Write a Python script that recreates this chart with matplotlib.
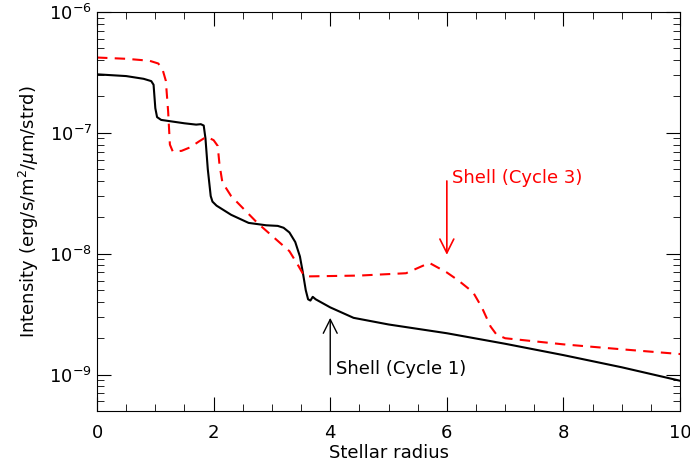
import matplotlib.pyplot as plt
from matplotlib.patches import FancyArrowPatch
from matplotlib.ticker import MultipleLocator, LogLocator, NullFormatter

# cycle 1 (solid black)
r1 = [0, 0.5, 0.8, 0.93, 0.97, 1.0, 1.03, 1.1, 1.5, 1.7, 1.78, 1.83, 1.86,
      1.9, 1.95, 1.98, 2.05, 2.3, 2.6, 2.9, 3.1, 3.2, 3.3, 3.4, 3.48, 3.53,
      3.58, 3.62, 3.66, 3.7, 3.75, 4.0, 4.4, 5.0, 6.0, 7.0, 8.0, 9.0, 10.0]
i1 = [3.05e-7, 2.95e-7, 2.8e-7, 2.68e-7, 2.5e-7, 1.6e-7, 1.35e-7, 1.28e-7,
      1.2e-7, 1.17e-7, 1.18e-7, 1.15e-7, 9e-8, 5e-8, 3.0e-8, 2.7e-8, 2.5e-8,
      2.1e-8, 1.8e-8, 1.72e-8, 1.7e-8, 1.64e-8, 1.5e-8, 1.25e-8, 9.5e-9,
      7e-9, 5e-9, 4.2e-9, 4.1e-9, 4.4e-9, 4.2e-9, 3.6e-9, 2.95e-9, 2.6e-9,
      2.2e-9, 1.8e-9, 1.45e-9, 1.15e-9, 0.89e-9]

# cycle 3 (dashed red)
r3 = [0, 0.5, 0.9, 1.05, 1.12, 1.18, 1.22, 1.25, 1.3, 1.45, 1.6, 1.75, 1.88,
      2.0, 2.07, 2.1, 2.15, 2.3, 2.75, 3.3, 3.45, 3.55, 3.65, 4.5, 5.3, 5.7,
      6.0, 6.2, 6.45, 6.6, 6.75, 6.85, 7.0, 8.0, 9.0, 10.0]
i3 = [4.2e-7, 4.1e-7, 3.95e-7, 3.75e-7, 3.4e-7, 2.7e-7, 1.5e-7, 8e-8, 7e-8,
      7.1e-8, 7.6e-8, 8.5e-8, 9.3e-8, 8.7e-8, 7.8e-8, 5.5e-8, 3.9e-8, 3.0e-8,
      1.8e-8, 1.05e-8, 8e-9, 6.6e-9, 6.5e-9, 6.6e-9, 6.9e-9, 8.4e-9, 7.0e-9,
      6.0e-9, 4.8e-9, 3.6e-9, 2.5e-9, 2.15e-9, 2.0e-9, 1.78e-9, 1.62e-9, 1.48e-9]

yticks = [1e-9, 1e-8, 1e-7, 1e-6]

fig = plt.figure(figsize=(6.9, 4.72), dpi=100)
ax = fig.add_axes([0.1406, 0.1292, 0.845, 0.8454])

ax.plot(r1, i1, color='black', lw=1.5)
ax.plot(r3, i3, color='red', lw=1.5, ls=(0, (5, 3.5)))

ax.set_yscale('log')
ax.set_xlim(0, 10)
ax.set_ylim(5e-10, 1e-6)

ax.xaxis.set_major_locator(MultipleLocator(2))
ax.xaxis.set_minor_locator(MultipleLocator(0.5))
ax.set_yticks(yticks)
ax.yaxis.set_minor_locator(LogLocator(base=10, subs=range(2, 10), numticks=20))
ax.yaxis.set_minor_formatter(NullFormatter())
ax.tick_params(which='both', direction='in', top=True, right=True, labelsize=13)
ax.tick_params(which='major', length=10)
ax.tick_params(which='minor', length=5)
ax.tick_params(axis='x', pad=9)

ax.set_xlabel('Stellar radius', fontsize=13, labelpad=2)
ax.set_ylabel(r'Intensity (erg/s/m$^2$/$\mu$m/strd)', fontsize=13, labelpad=6)

# annotations
ax.add_patch(FancyArrowPatch((6.0, 4.0e-8), (6.0, 9.8e-9), arrowstyle='->',
                             color='red', lw=1.2, mutation_scale=25,
                             shrinkA=0, shrinkB=0))
ax.text(6.09, 4.2e-8, 'Shell (Cycle 3)', color='red', fontsize=13, va='center')

ax.add_patch(FancyArrowPatch((4.0, 1.0e-9), (4.0, 2.95e-9), arrowstyle='->',
                             color='black', lw=1.0, mutation_scale=25,
                             shrinkA=0, shrinkB=0))
ax.text(4.1, 1.12e-9, 'Shell (Cycle 1)', color='black', fontsize=13, va='center')

plt.savefig('out.png', dpi=100)
